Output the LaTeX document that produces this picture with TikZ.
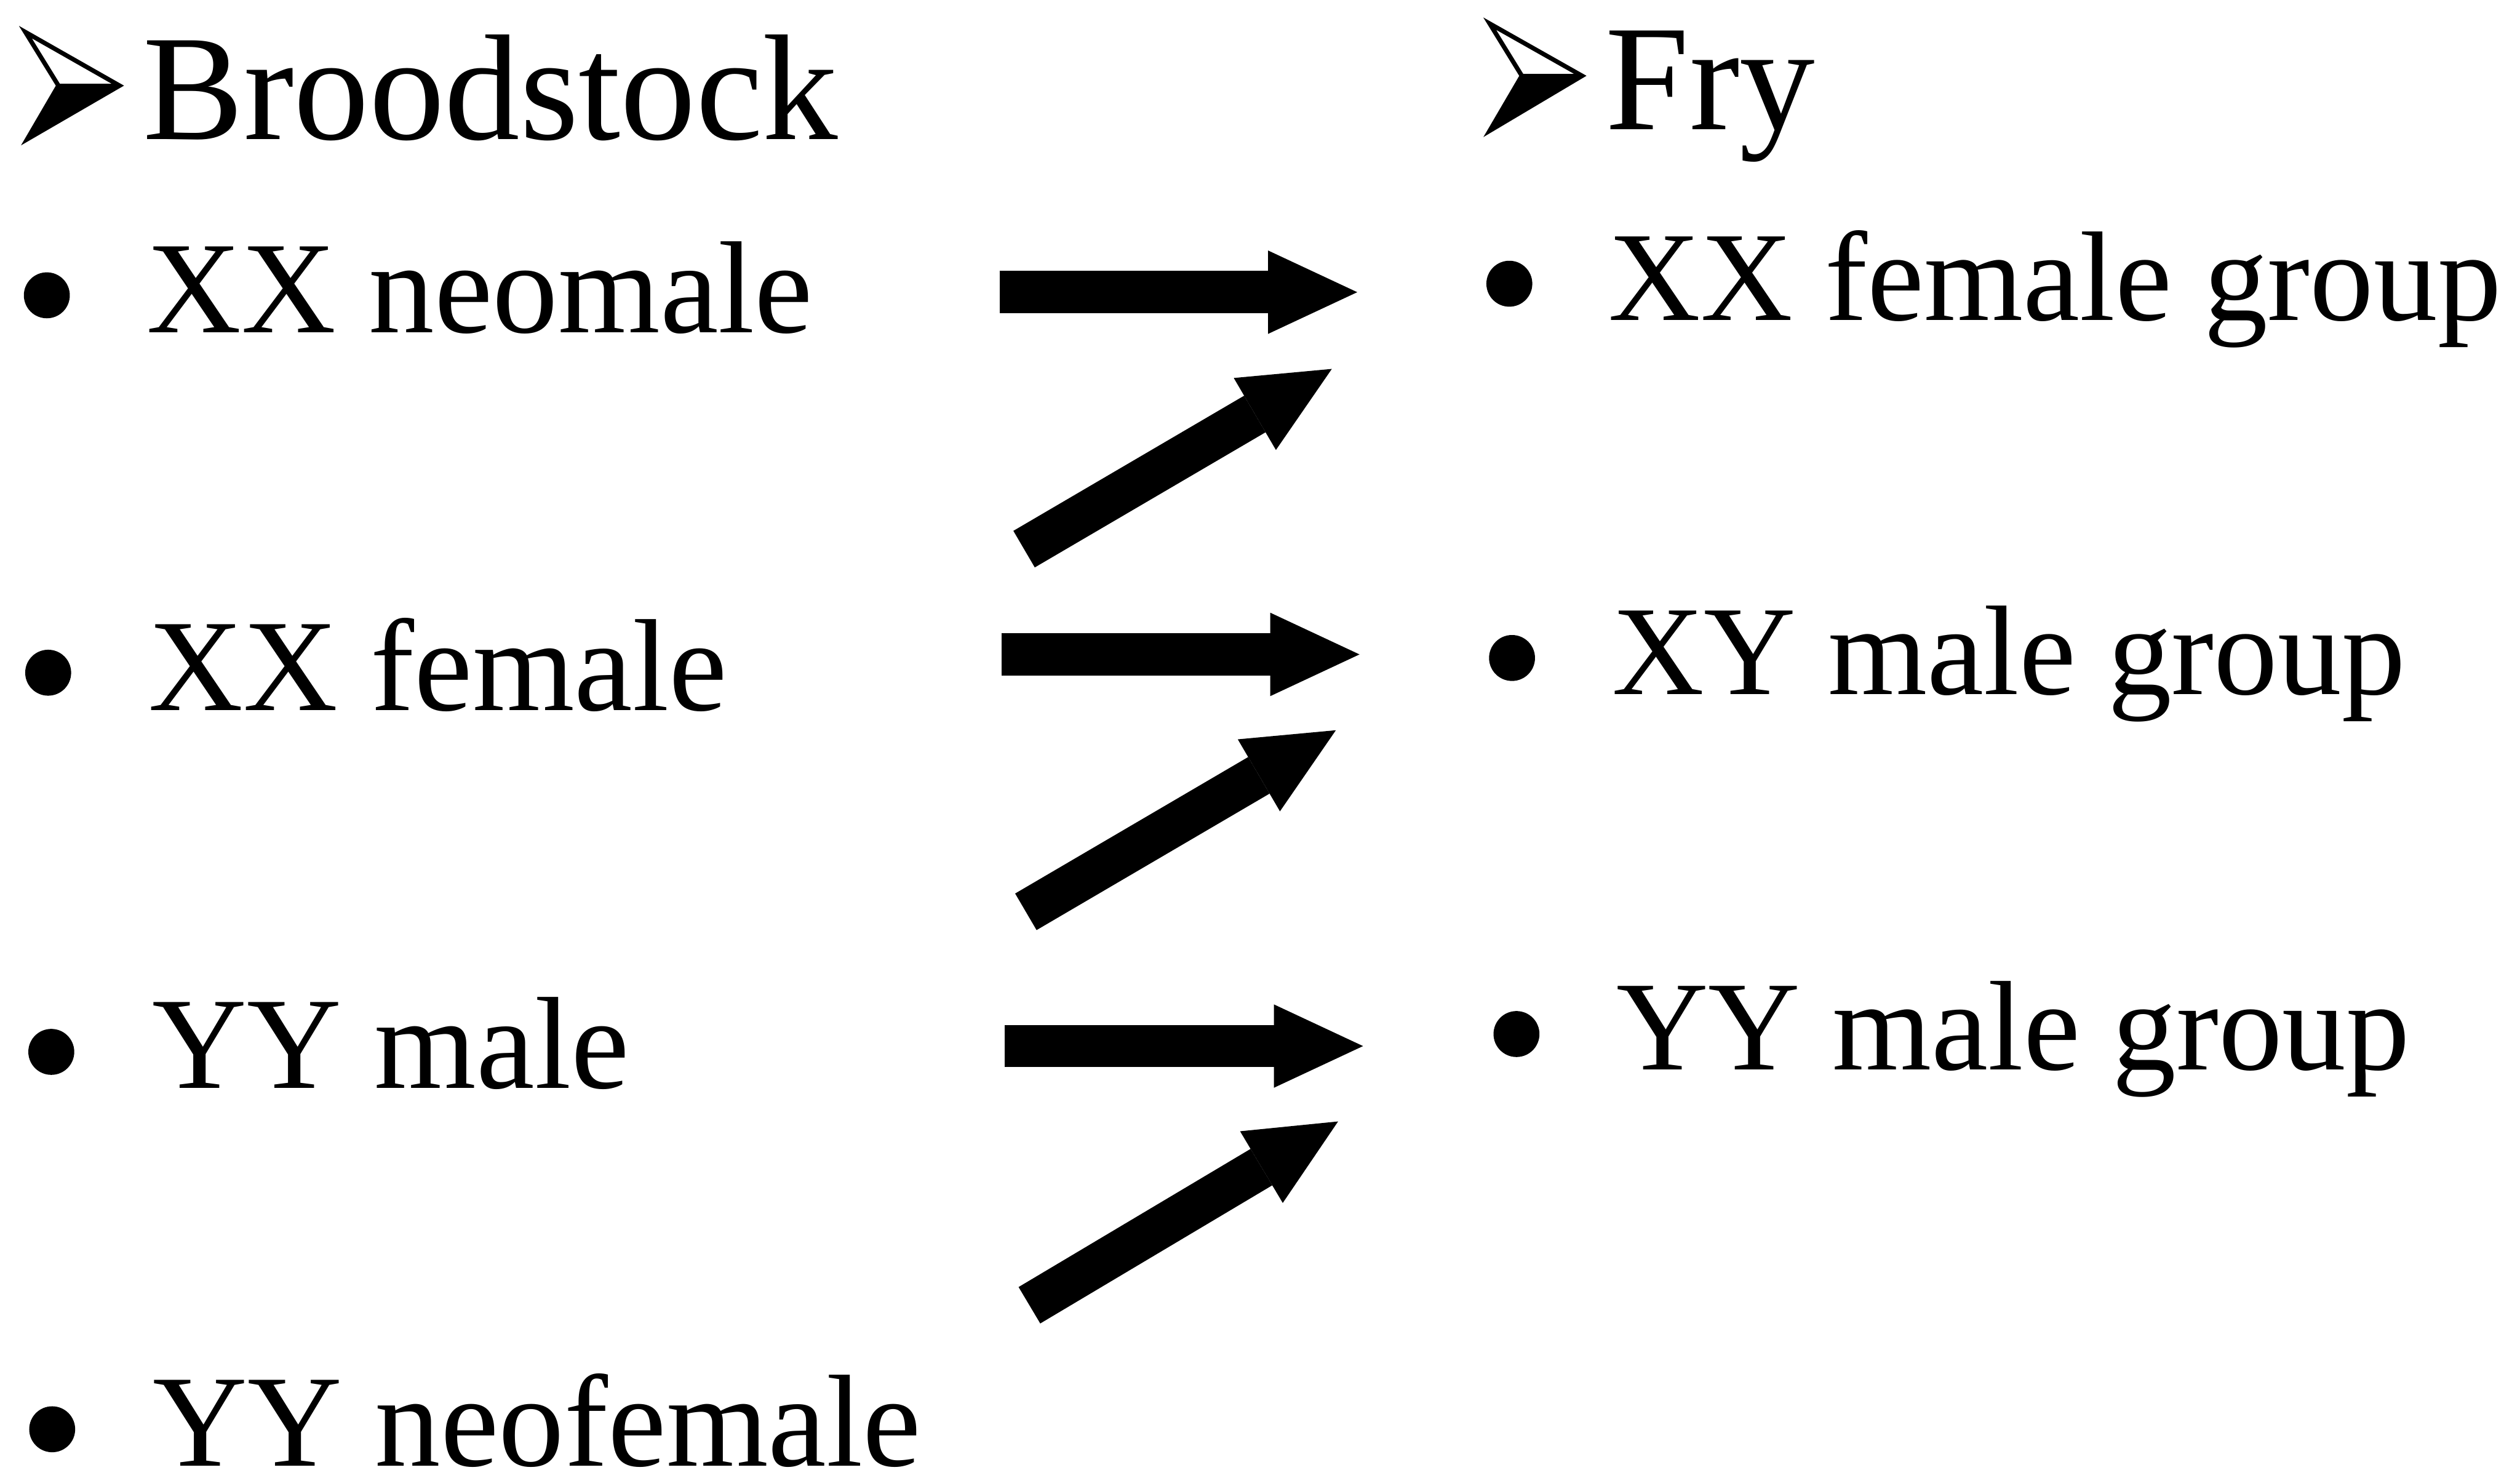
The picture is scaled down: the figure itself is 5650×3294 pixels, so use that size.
\documentclass[tikz,border=0pt]{standalone}
\usepackage{fontspec}
\setmainfont{Liberation Serif}
\usetikzlibrary{arrows.meta}
\begin{document}
\begin{tikzpicture}[x=0.1pt,y=-0.1pt,
  hdr/.style={anchor=base west, inner sep=0pt, font=\fontsize{33.8pt}{40pt}\selectfont},
  item/.style={anchor=base west, inner sep=0pt, font=\fontsize{29.4pt}{35pt}\selectfont},
  ritem/.style={anchor=base west, inner sep=0pt, font=\fontsize{28.6pt}{34pt}\selectfont},
  dot/.style={circle, fill=black, inner sep=0pt, minimum size=10.3pt},
  blockarrow/.style={line width=9.5pt, -{Triangle[length=20pt,width=18.7pt,line width=0pt]}},
  glyphline/.style={line width=1pt, line join=miter}]
\useasboundingbox (0,0) rectangle (5650,3294);

% header markers (arrowhead dingbats)
\fill (131,192) -- (268,192) -- (61,312) -- cycle;
\draw[glyphline] (57,72) -- (268,192) -- (61,312) -- (131,192) -- cycle;
\draw[glyphline] (131,192) -- (268,192);
\fill (3412,170) -- (3547,170) -- (3340,293) -- cycle;
\draw[glyphline] (3340,53) -- (3547,170) -- (3340,293) -- (3412,170) -- cycle;
\draw[glyphline] (3412,170) -- (3547,170);

% headers
\node[hdr] (hBrood) at (319,312) {Broodstock};
\node[hdr] (hFry) at (3598,290) {Fry};

% left items
\node[dot] (d1) at (105,662) {};
\node[item] (b1) at (327,745) {XX neomale};
\node[dot] (d2) at (108,1508) {};
\node[item] (b2) at (331,1592) {XX female};
\node[dot] (d3) at (115,2358) {};
\node[item] (b3) at (340,2440) {YY male};
\node[dot] (d4) at (117,3204) {};
\node[item] (b4) at (341,3286) {YY neofemale};

% right items
\node[dot] (e1) at (3384,636) {};
\node[ritem] (f1) at (3605,718) {XX female group};
\node[dot] (e2) at (3390,1475) {};
\node[ritem] (f2) at (3612,1557) {XY male group};
\node[dot] (e3) at (3400,2318) {};
\node[ritem] (f3) at (3622,2398) {YY male group};

% arrow end points
\coordinate (h1s) at (2241,655);  \coordinate (h1e) at (3043,655);
\coordinate (g1s) at (2296,1231); \coordinate (g1e) at (2986,827);
\coordinate (h2s) at (2245,1467); \coordinate (h2e) at (3048,1467);
\coordinate (g2s) at (2300,2044); \coordinate (g2e) at (2995,1637);
\coordinate (h3s) at (2253,2345); \coordinate (h3e) at (3056,2345);
\coordinate (g3s) at (2308,2926); \coordinate (g3e) at (3000,2514);

\draw[blockarrow] (h1s) -- (h1e);
\draw[blockarrow] (g1s) -- (g1e);
\draw[blockarrow] (h2s) -- (h2e);
\draw[blockarrow] (g2s) -- (g2e);
\draw[blockarrow] (h3s) -- (h3e);
\draw[blockarrow] (g3s) -- (g3e);
\end{tikzpicture}
\end{document}
